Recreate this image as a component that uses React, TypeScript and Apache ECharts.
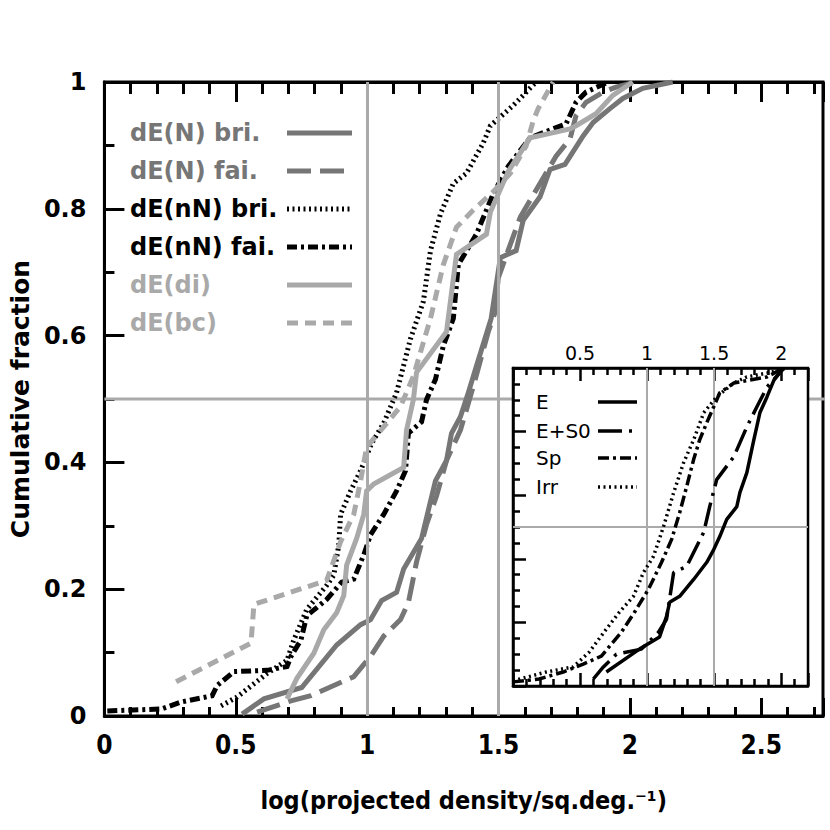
import React, { useEffect, useRef } from "react";
import * as echarts from "echarts";

// ---- Main panel data: [log density, cumulative fraction] ----
const dENbri: [number, number][] = [
  [0.524, 0.003], [0.607, 0.027], [0.751, 0.045], [0.884, 0.112], [0.975, 0.144],
  [1.013, 0.152], [1.055, 0.182], [1.112, 0.195], [1.139, 0.232], [1.207, 0.28],
  [1.26, 0.371], [1.302, 0.403], [1.321, 0.446], [1.355, 0.472], [1.385, 0.51],
  [1.416, 0.552], [1.472, 0.627], [1.507, 0.723], [1.567, 0.734], [1.594, 0.782],
  [1.658, 0.819], [1.696, 0.862], [1.753, 0.87], [1.822, 0.915], [1.86, 0.936],
  [1.924, 0.958], [1.973, 0.974], [2.049, 0.99], [2.163, 1.0],
];
const dENfai: [number, number][] = [
  [0.581, 0.006], [0.71, 0.024], [0.786, 0.032], [0.949, 0.062], [1.013, 0.094],
  [1.063, 0.126], [1.127, 0.152], [1.157, 0.179], [1.188, 0.243], [1.226, 0.302],
  [1.264, 0.347], [1.302, 0.403], [1.355, 0.451], [1.378, 0.483], [1.404, 0.52],
  [1.461, 0.606], [1.488, 0.638], [1.499, 0.691], [1.545, 0.744], [1.583, 0.787],
  [1.651, 0.835], [1.719, 0.883], [1.772, 0.91], [1.795, 0.947], [1.833, 0.968],
  [1.898, 0.984], [1.947, 0.992], [2.023, 1.0],
];
const dEnNbri: [number, number][] = [
  [0.444, 0.016], [0.505, 0.03], [0.619, 0.067], [0.695, 0.088], [0.721, 0.12],
  [0.77, 0.168], [0.846, 0.206], [0.873, 0.222], [0.892, 0.27], [0.899, 0.318],
  [0.937, 0.355], [0.975, 0.387], [1.017, 0.43], [1.063, 0.462], [1.112, 0.51],
  [1.165, 0.595], [1.214, 0.654], [1.241, 0.734], [1.279, 0.792], [1.328, 0.84],
  [1.378, 0.856], [1.442, 0.904], [1.469, 0.931], [1.556, 0.963], [1.643, 1.0],
];
const dEnNfai: [number, number][] = [
  [0.011, 0.008], [0.216, 0.011], [0.292, 0.022], [0.41, 0.032], [0.429, 0.048],
  [0.493, 0.07], [0.619, 0.072], [0.695, 0.078], [0.71, 0.094], [0.748, 0.12],
  [0.77, 0.158], [0.846, 0.184], [0.903, 0.211], [0.949, 0.216], [0.987, 0.254],
  [1.013, 0.286], [1.063, 0.318], [1.112, 0.355], [1.146, 0.387], [1.157, 0.446],
  [1.207, 0.464], [1.226, 0.499], [1.26, 0.531], [1.29, 0.584], [1.328, 0.627],
  [1.347, 0.712], [1.416, 0.76], [1.48, 0.824], [1.537, 0.867], [1.62, 0.912],
  [1.757, 0.934], [1.795, 0.968], [1.833, 0.984], [1.917, 1.0],
];
const dEdi: [number, number][] = [
  [0.695, 0.027], [0.732, 0.059], [0.797, 0.099], [0.835, 0.136], [0.884, 0.163],
  [0.911, 0.19], [0.922, 0.238], [0.96, 0.28], [0.987, 0.318], [0.998, 0.355],
  [1.025, 0.366], [1.139, 0.392], [1.15, 0.451], [1.176, 0.499], [1.188, 0.542],
  [1.302, 0.606], [1.34, 0.728], [1.454, 0.76], [1.469, 0.795], [1.537, 0.859],
  [1.62, 0.912], [1.772, 0.926], [1.795, 0.931], [1.871, 0.95], [1.935, 0.979],
  [2.011, 1.0],
];
const dEbc: [number, number][] = [
  [0.273, 0.054], [0.558, 0.115], [0.569, 0.176], [0.846, 0.214], [0.899, 0.275],
  [0.949, 0.318], [0.975, 0.371], [0.998, 0.424], [1.063, 0.456], [1.127, 0.488],
  [1.176, 0.536], [1.241, 0.627], [1.29, 0.712], [1.34, 0.771], [1.404, 0.798],
  [1.48, 0.827], [1.545, 0.856], [1.605, 0.899], [1.632, 0.939], [1.651, 0.958],
  [1.708, 1.0],
];

// ---- Inset data ----
const insE: [number, number][] = [
  [0.696, 0.044], [0.943, 0.116], [1.093, 0.154], [1.145, 0.219], [1.168, 0.263],
  [1.243, 0.282], [1.347, 0.335], [1.445, 0.389], [1.497, 0.429], [1.542, 0.47],
  [1.594, 0.524], [1.669, 0.564], [1.692, 0.608], [1.744, 0.671], [1.796, 0.774],
  [1.841, 0.859], [1.894, 0.909], [1.946, 0.962], [2.006, 0.994],
];
const insES0: [number, number][] = [
  [0.599, 0.022], [0.674, 0.06], [0.771, 0.1], [0.958, 0.116], [1.085, 0.169],
  [1.145, 0.21], [1.198, 0.357], [1.295, 0.376], [1.422, 0.483], [1.467, 0.564],
  [1.519, 0.649], [1.647, 0.721], [1.744, 0.815], [1.819, 0.878], [1.894, 0.94],
  [2.021, 1.0],
];
const insSp: [number, number][] = [
  [0.0, 0.013], [0.195, 0.022], [0.374, 0.044], [0.524, 0.069], [0.659, 0.094],
  [0.808, 0.169], [0.906, 0.232], [1.01, 0.304], [1.108, 0.389], [1.183, 0.461],
  [1.243, 0.545], [1.295, 0.627], [1.347, 0.712], [1.392, 0.774], [1.445, 0.828],
  [1.497, 0.878], [1.542, 0.922], [1.647, 0.953], [1.894, 0.972], [1.991, 0.994],
];
const insIrr: [number, number][] = [
  [0.0, 0.016], [0.247, 0.044], [0.449, 0.06], [0.569, 0.107], [0.696, 0.179],
  [0.793, 0.232], [0.898, 0.282], [0.973, 0.357], [1.048, 0.408], [1.123, 0.502],
  [1.198, 0.608], [1.272, 0.702], [1.347, 0.774], [1.422, 0.859], [1.519, 0.909],
  [1.647, 0.953], [1.744, 0.972], [1.894, 0.984], [2.043, 1.0],
];

const mainNames = ["dE(N) bri.", "dE(N) fai.", "dE(nN) bri.", "dE(nN) fai.", "dE(di)", "dE(bc)"];
const insetNames = ["E", "E+S0", "Sp", "Irr"];
const mainGridX = [1, 1.5];
const mainGridY = 0.5;
const mainGridYSpan = [0, 2.77];
const insetGridX = [1, 1.5];
const insetGridY = [0.5];

const DARK = "#767676";
const LIGHT = "#a9a9a9";
const FONT = "'DejaVu Sans', sans-serif";
const FONTC = "'DejaVu Sans Condensed', 'DejaVu Sans', sans-serif";

const mainStyles = [
  { data: dENbri, color: DARK, dash: "solid" as any },
  { data: dENfai, color: DARK, dash: [24, 9] },
  { data: dEnNbri, color: "#000", dash: [2, 3.5] },
  { data: dEnNfai, color: "#000", dash: [10, 4, 3, 4] },
  { data: dEdi, color: LIGHT, dash: "solid" as any },
  { data: dEbc, color: LIGHT, dash: [11, 7] },
];
const insetStyles = [
  { data: insE, dash: "solid" as any },
  { data: insES0, dash: [24, 7, 3, 7] },
  { data: insSp, dash: [11, 4, 3, 4] },
  { data: insIrr, dash: [2, 3.5] },
];

export default function App() {
  const ref = useRef<HTMLDivElement>(null);
  useEffect(() => {
    if (!ref.current) return;
    const chart = echarts.init(ref.current, undefined, { renderer: "svg" });

    const tickStyle = { color: "#000", width: 3 };
    const series: any[] = [];
    // main vertical gridlines
    series.push({
      type: "line",
      xAxisIndex: 0,
      yAxisIndex: 0,
      data: [],
      z: 1,
      silent: true,
      markLine: {
        silent: true,
        symbol: ["none", "none"],
        label: { show: false },
        lineStyle: { color: "#aaa", width: 3, type: "solid" },
        data: mainGridX.map((v) => ({ xAxis: v })),
      },
    });
    // main horizontal gridline (extends slightly past the frame)
    series.push({
      type: "line",
      xAxisIndex: 0,
      yAxisIndex: 0,
      data: mainGridYSpan.map((x) => [x, mainGridY]),
      z: 1,
      clip: false,
      silent: true,
      showSymbol: false,
      symbol: "none",
      lineStyle: { color: "#aaa", width: 3, type: "solid" },
    });
    mainStyles.forEach((s, i) => {
      series.push({
        name: mainNames[i],
        type: "line",
        xAxisIndex: 0,
        yAxisIndex: 0,
        data: s.data,
        showSymbol: false,
        symbol: "none",
        z: 2,
        lineStyle: { color: s.color, width: 5, type: s.dash, cap: "butt", join: "miter" },
      });
    });
    // inset gridlines
    series.push({
      type: "line",
      xAxisIndex: 2,
      yAxisIndex: 1,
      data: [],
      z: 4,
      silent: true,
      markLine: {
        silent: true,
        symbol: ["none", "none"],
        label: { show: false },
        lineStyle: { color: "#aaa", width: 2, type: "solid" },
        data: [
          ...insetGridX.map((v) => ({ xAxis: v })),
          ...insetGridY.map((v) => ({ yAxis: v })),
        ],
      },
    });
    insetStyles.forEach((s, i) => {
      series.push({
        name: insetNames[i],
        type: "line",
        xAxisIndex: 2,
        yAxisIndex: 1,
        data: s.data,
        showSymbol: false,
        symbol: "none",
        z: 5,
        lineStyle: { color: "#000", width: 3.5, type: s.dash, cap: "butt" },
      });
    });

    const graphic: any[] = [];
    const legY = [133, 171, 209, 247, 285, 323];
    mainStyles.forEach((s, i) => {
      graphic.push({
        type: "text",
        z: 10,
        style: {
          text: mainNames[i],
          x: 130,
          y: legY[i],
          fill: s.color,
          font: `bold 24px ${FONT}`,
          verticalAlign: "middle",
        },
      });
      graphic.push({
        type: "line",
        z: 10,
        shape: { x1: 287, y1: legY[i], x2: 352, y2: legY[i] },
        style: {
          stroke: s.color,
          lineWidth: 5,
          lineDash: s.dash === "solid" ? null : s.dash,
        },
      });
    });
    const insLegY = [402, 431, 458, 487];
    insetStyles.forEach((s, i) => {
      graphic.push({
        type: "text",
        z: 10,
        style: {
          text: insetNames[i],
          x: 536,
          y: insLegY[i],
          fill: "#000",
          font: `20px ${FONT}`,
          verticalAlign: "middle",
        },
      });
      graphic.push({
        type: "line",
        z: 10,
        shape: { x1: 598, y1: insLegY[i], x2: 637, y2: insLegY[i] },
        style: {
          stroke: "#000",
          lineWidth: 3.5,
          lineDash: s.dash === "solid" ? null : s.dash,
        },
      });
    });

    chart.setOption({
      animation: false,
      backgroundColor: "#fff",
      grid: [
        {
          left: 101,
          top: 82,
          width: 722,
          height: 634,
          show: true,
          borderColor: "#000",
          borderWidth: 3,
          backgroundColor: "transparent",
          z: 0,
        },
        {
          left: 513,
          top: 368,
          width: 295,
          height: 318,
          show: true,
          borderColor: "#000",
          borderWidth: 2.5,
          backgroundColor: "#fff",
          z: 3,
        },
      ],
      xAxis: [
        {
          gridIndex: 0,
          type: "value",
          position: "bottom",
          min: 0,
          max: 2.735,
          interval: 0.5,
          axisLine: { show: true, onZero: false, lineStyle: { color: "#000", width: 3 } },
          axisTick: { show: true, inside: true, length: 18, lineStyle: tickStyle },
          minorTick: { show: true, splitNumber: 5, length: 9, lineStyle: tickStyle },
          splitLine: { show: false },
          axisLabel: {
            color: "#000",
            fontSize: 26,
            fontWeight: "bold",
            fontFamily: FONTC,
            margin: 16,
            showMaxLabel: false,
          },
          name: "log(projected density/sq.deg.⁻¹)",
          nameLocation: "middle",
          nameGap: 72,
          nameTextStyle: { color: "#000", fontSize: 25, fontWeight: "bold", fontFamily: FONTC },
        },
        {
          gridIndex: 0,
          type: "value",
          position: "top",
          min: 0,
          max: 2.735,
          interval: 0.5,
          axisLine: { show: true, onZero: false, lineStyle: { color: "#000", width: 3 } },
          axisTick: { show: true, inside: true, length: 20, lineStyle: tickStyle },
          minorTick: { show: true, splitNumber: 5, length: 12, lineStyle: tickStyle },
          splitLine: { show: false },
          axisLabel: { show: false },
        },
        {
          gridIndex: 1,
          type: "value",
          position: "bottom",
          min: 0,
          max: 2.2,
          interval: 0.5,
          z: 4,
          axisLine: { show: true, onZero: false, lineStyle: { color: "#000", width: 2.5 } },
          axisTick: { show: true, inside: true, length: 13, lineStyle: { color: "#000", width: 2.5 } },
          minorTick: { show: true, splitNumber: 5, length: 7, lineStyle: { color: "#000", width: 2.5 } },
          splitLine: { show: false },
          axisLabel: { show: false },
        },
        {
          gridIndex: 1,
          type: "value",
          position: "top",
          min: 0,
          max: 2.2,
          interval: 0.5,
          z: 4,
          axisLine: { show: true, onZero: false, lineStyle: { color: "#000", width: 2.5 } },
          axisTick: { show: true, inside: true, length: 13, lineStyle: { color: "#000", width: 2.5 } },
          minorTick: { show: true, splitNumber: 5, length: 7, lineStyle: { color: "#000", width: 2.5 } },
          splitLine: { show: false },
          axisLabel: {
            color: "#000",
            fontSize: 19,
            fontFamily: FONT,
            margin: 6,
            showMinLabel: false,
            showMaxLabel: false,
          },
        },
      ],
      yAxis: [
        {
          gridIndex: 0,
          type: "value",
          min: 0,
          max: 1,
          interval: 0.2,
          axisLine: { show: true, onZero: false, lineStyle: { color: "#000", width: 3 } },
          axisTick: { show: true, inside: true, length: 20, lineStyle: tickStyle },
          minorTick: { show: true, splitNumber: 2, length: 10, lineStyle: tickStyle },
          splitLine: { show: false },
          axisLabel: {
            color: "#000",
            fontSize: 24,
            fontWeight: "bold",
            fontFamily: FONT,
            margin: 18,
          },
          name: "Cumulative fraction",
          nameLocation: "middle",
          nameGap: 70,
          nameTextStyle: { color: "#000", fontSize: 25, fontWeight: "bold", fontFamily: FONT },
        },
        {
          gridIndex: 1,
          type: "value",
          min: 0,
          max: 1,
          interval: 0.2,
          z: 4,
          axisLine: { show: true, onZero: false, lineStyle: { color: "#000", width: 2.5 } },
          axisTick: { show: true, inside: true, length: 13, lineStyle: { color: "#000", width: 2.5 } },
          minorTick: { show: true, splitNumber: 4, length: 7, lineStyle: { color: "#000", width: 2.5 } },
          splitLine: { show: false },
          axisLabel: { show: false },
        },
      ],
      series,
      graphic,
    });

    return () => chart.dispose();
  }, []);

  return (
    <div
      ref={ref}
      style={{ position: "absolute", left: 0, top: 0, width: 830, height: 830, background: "#fff" }}
    />
  );
}
